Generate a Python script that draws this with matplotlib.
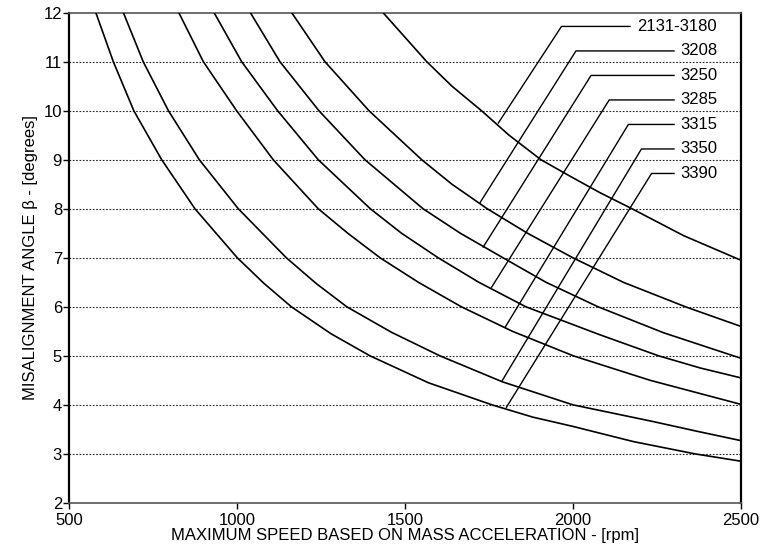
import matplotlib.pyplot as plt

plt.rcParams['font.family'] = ['Liberation Sans', 'DejaVu Sans']

# curve labels, top curve first
labels = ["2131-3180", "3208", "3250", "3285", "3315", "3350", "3390"]

# points: speed [rpm] and misalignment angle [degrees]
rpm_2131 = [1435, 1565, 1640, 1728, 1810, 1905, 1990, 2080, 2176, 2330, 2500]
deg_2131 = [12, 11, 10.5, 10, 9.5, 9, 8.67, 8.33, 8, 7.45, 6.95]

rpm_3208 = [1163, 1262, 1393, 1550, 1640, 1745, 1865, 2000, 2150, 2335, 2500]
deg_3208 = [12, 11, 10, 9, 8.5, 8, 7.5, 7, 6.5, 6, 5.6]

rpm_3250 = [1040, 1128, 1244, 1381, 1554, 1665, 1792, 1920, 2075, 2270, 2500]
deg_3250 = [12, 11, 10, 9, 8, 7.5, 7, 6.5, 6, 5.47, 4.95]

rpm_3285 = [932, 1014, 1121, 1242, 1397, 1490, 1599, 1720, 1860, 2080, 2255,
            2380, 2500]
deg_3285 = [12, 11, 10, 9, 8, 7.5, 7, 6.5, 6, 5.43, 5, 4.75, 4.55]

rpm_3315 = [827, 900, 999, 1108, 1242, 1330, 1426, 1540, 1668, 1820, 2001,
            2230, 2500]
deg_3315 = [12, 11, 10, 9, 8, 7.5, 7, 6.5, 6, 5.5, 5, 4.5, 4.01]

rpm_3350 = [662, 721, 796, 888, 1004, 1147, 1235, 1327, 1460, 1604, 1790,
            2000, 2238, 2370, 2500]
deg_3350 = [12, 11, 10, 9, 8, 7, 6.48, 6, 5.48, 5, 4.47, 4, 3.66, 3.46, 3.27]

rpm_3390 = [580, 632, 693, 776, 875, 1001, 1080, 1162, 1280, 1396, 1570,
            1759, 1880, 2000, 2180, 2363, 2500]
deg_3390 = [12, 11, 10, 9, 8, 7, 6.48, 6, 5.45, 5, 4.45, 4, 3.75, 3.56,
            3.25, 3, 2.85]

# leader lines: point on the curve, elbow, label position
leader_x0 = [1778, 1723, 1733, 1758, 1798, 1790, 1802]
leader_y0 = [9.75, 8.12, 7.22, 6.40, 5.58, 4.50, 3.95]
elbow_x = [1966, 2009, 2054, 2108, 2165, 2204, 2234]
label_y = [11.72, 11.22, 10.72, 10.22, 9.72, 9.22, 8.72]
label_x = [2190, 2321, 2321, 2321, 2321, 2321, 2321]

curves = [(rpm_2131, deg_2131), (rpm_3208, deg_3208), (rpm_3250, deg_3250),
          (rpm_3285, deg_3285), (rpm_3315, deg_3315), (rpm_3350, deg_3350),
          (rpm_3390, deg_3390)]

fig = plt.figure(figsize=(7.75, 5.52), dpi=100)
ax = fig.add_axes([0.089, 0.089, 0.867, 0.888])

for yy in range(3, 12):
    ax.axhline(yy, color='#222222', lw=0.8, ls=(0, (1.5, 1.5)), zorder=1)

for xs, ys in curves:
    ax.plot(xs, ys, color='black', lw=1.2, zorder=3, solid_joinstyle='round')

for i in range(len(labels)):
    x_end = label_x[i] - 20
    ax.plot([leader_x0[i], elbow_x[i], x_end],
            [leader_y0[i], label_y[i], label_y[i]],
            color='black', lw=1.0, zorder=3)
    ax.text(label_x[i], label_y[i], labels[i], fontsize=12,
            va='center', ha='left', zorder=4)

ax.set_xlim(500, 2500)
ax.set_ylim(2, 12)
ax.set_xticks([500, 1000, 1500, 2000, 2500])
ax.set_yticks(range(2, 13))
ax.tick_params(direction='out', length=4, width=1, labelsize=12, pad=1)
ax.tick_params(axis='x', pad=3)

for side in ['left', 'right']:
    ax.spines[side].set_linewidth(1.6)
    ax.spines[side].set_color('black')
for side in ['top', 'bottom']:
    ax.spines[side].set_linewidth(1.2)
    ax.spines[side].set_color('#555555')

ax.set_xlabel("MAXIMUM SPEED BASED ON MASS ACCELERATION - [rpm]",
              fontsize=12, labelpad=0)
ax.set_ylabel("MISALIGNMENT ANGLE β - [degrees]", fontsize=12, labelpad=4)

fig.savefig("out.png", dpi=100)
